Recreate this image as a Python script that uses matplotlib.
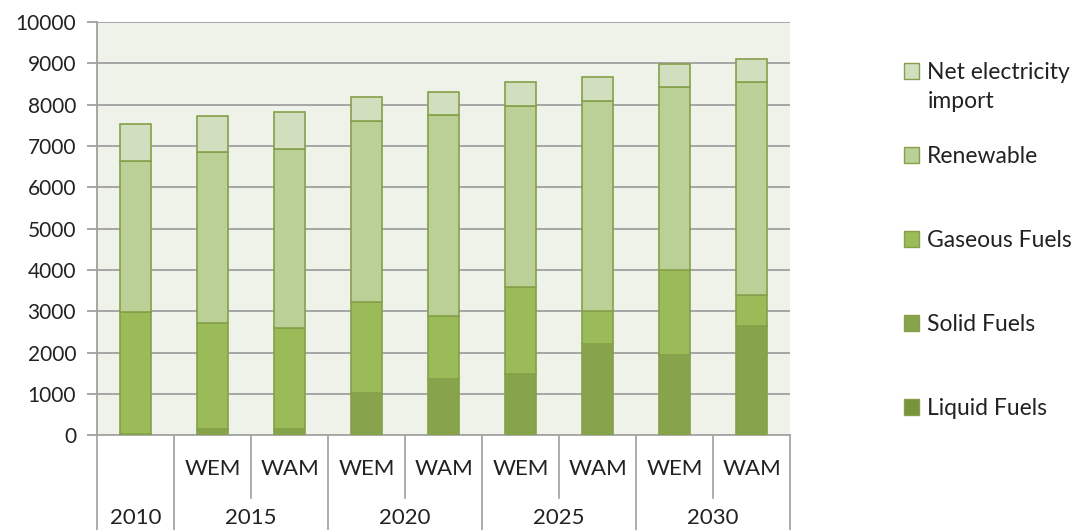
import matplotlib.pyplot as plt
import matplotlib.transforms as mtransforms
from matplotlib.patches import Patch
import numpy as np

plt.rcParams['font.family'] = ['Lato', 'DejaVu Sans']

# data
scenarios = ["", "WEM", "WAM", "WEM", "WAM", "WEM", "WAM", "WEM", "WAM"]
years = ["2010", "2015", "2020", "2025", "2030"]
year_groups = [(0, 0), (1, 2), (3, 4), (5, 6), (7, 8)]

liquid = [0, 0, 0, 0, 0, 0, 0, 0, 0]
solid = [20, 140, 140, 1030, 1370, 1490, 2200, 1940, 2650]
gaseous = [2970, 2580, 2460, 2190, 1520, 2090, 810, 2050, 750]
renewable = [3640, 4140, 4320, 4390, 4870, 4390, 5080, 4430, 5140]
net_import = [900, 860, 900, 570, 540, 570, 570, 570, 560]

series = [
    ("Liquid Fuels", liquid, "#77933C"),
    ("Solid Fuels", solid, "#87A34B"),
    ("Gaseous Fuels", gaseous, "#9BBB59"),
    ("Renewable", renewable, "#BBD097"),
    ("Net electricity", net_import, "#D1DFBE"),
]

fig = plt.figure(figsize=(10.81, 5.30), dpi=100)
ax = fig.add_axes([0.0897, 0.179, 0.6413, 0.7795])
ax.set_facecolor("#EFF2E8")

x = np.arange(len(scenarios))
bottom = np.zeros(len(scenarios))
handles = []
for name, vals, col in series:
    ax.bar(x, vals, 0.4, bottom=bottom, color=col, edgecolor="#85A049",
           linewidth=1.2, zorder=3)
    bottom += np.array(vals)
    handles.append(Patch(facecolor=col, edgecolor="#85A049", label=name))

ax.set_xlim(-0.5, 8.5)
ax.set_ylim(0, 10000)
ax.set_yticks(np.arange(0, 10001, 1000))
ax.yaxis.grid(True, color="#A0A0A0", linewidth=1.3, zorder=1)
ax.set_axisbelow(True)
for s in ["top", "right", "bottom"]:
    ax.spines[s].set_visible(False)
ax.spines["left"].set_color("#A0A0A0")
ax.spines["left"].set_linewidth(1.3)
ax.tick_params(axis="y", colors="#A0A0A0", labelcolor="#222222", labelsize=15,
               length=7, width=1.3, pad=8)
ax.set_xticks([])

# multi-level category axis below the plot
trans = mtransforms.blended_transform_factory(ax.transData, ax.transAxes)
line_kw = dict(color="#A6A6A6", linewidth=1.3, transform=trans, clip_on=False)
ax.plot([-0.5, 8.5], [0, 0], **line_kw)
ax.plot([-0.5, -0.5], [0, -0.23], **line_kw)
for i in range(len(scenarios)):
    if scenarios[i]:
        ax.text(i, -0.082, scenarios[i], transform=trans, ha="center",
                va="center", fontsize=16, color="#222222")
for yr, (a, b) in zip(years, year_groups):
    ax.text((a + b) / 2, -0.2, yr, transform=trans, ha="center",
            va="center", fontsize=16, color="#222222")
    ax.plot([b + 0.5, b + 0.5], [0, -0.23], **line_kw)
    if b > a:
        ax.plot([a + 0.5, a + 0.5], [0, -0.153], **line_kw)

leg = ax.legend(handles=handles[::-1], loc="upper left",
                bbox_to_anchor=(1.134, 0.953), frameon=False, fontsize=16.5,
                handlelength=0.65, handleheight=0.65, handletextpad=0.35,
                labelspacing=2.75, labelcolor="#222222")
fig.text(928 / 1081, 1 - 101 / 530, "import", fontsize=16.5, va="center",
         ha="left", color="#222222")

plt.savefig("out.png", dpi=100)
